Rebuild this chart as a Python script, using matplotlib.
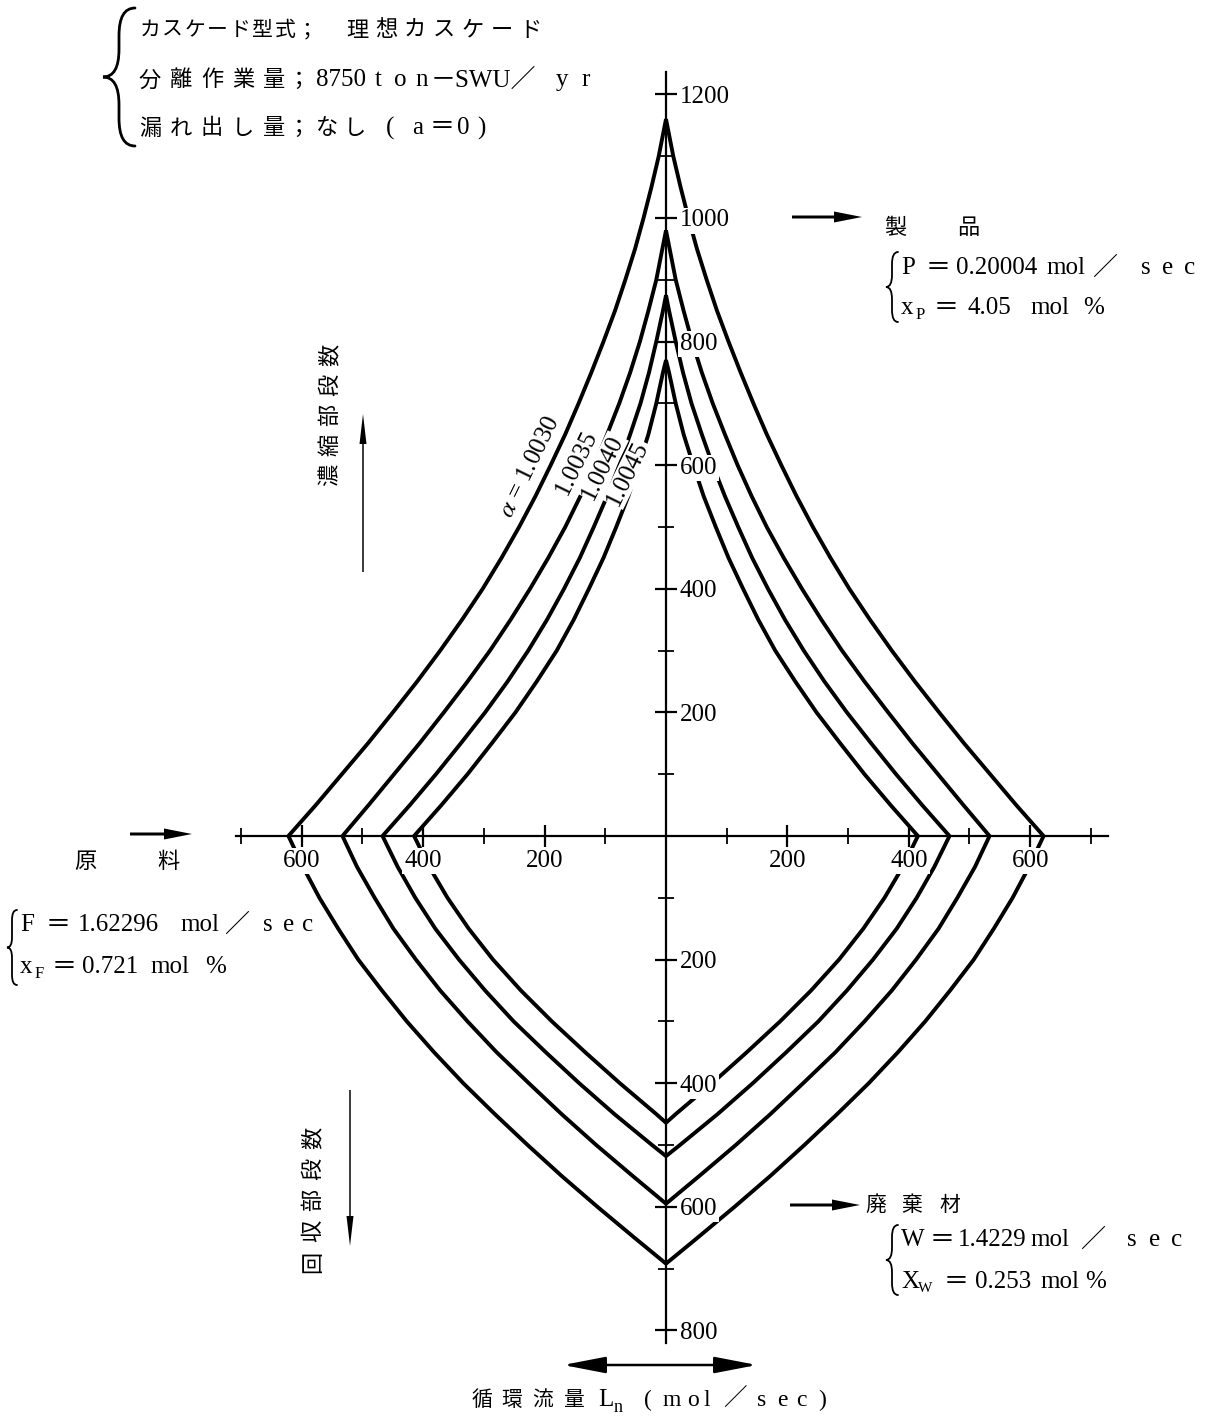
import matplotlib
matplotlib.use('Agg')
import numpy as np
import matplotlib.pyplot as plt
from matplotlib.path import Path
from matplotlib.patches import PathPatch, FancyArrow
from matplotlib.ticker import FuncFormatter

plt.rcParams['mathtext.fontset'] = 'stix'

W, H = 1206, 1423

# separation factor of each cascade
alpha_labels = [r'$\alpha$ = 1.0030', '1.0035', '1.0040', '1.0045']

# enriching section: stage number and circulating flow L_n (mol/sec)
enr_stages = [
    [0, 50, 100, 150, 200, 250, 300, 350, 400, 450, 500, 550, 600, 650, 700,
     750, 800, 850, 900, 950, 1000, 1050, 1100, 1160],
    [0, 50, 100, 150, 200, 250, 300, 350, 400, 450, 500, 550, 600, 650, 700,
     750, 800, 850, 900, 950, 980],
    [0, 50, 100, 150, 200, 250, 300, 350, 400, 450, 500, 550, 600, 650, 700,
     750, 800, 850, 875],
    [0, 50, 100, 150, 200, 250, 300, 350, 400, 450, 500, 550, 600, 650, 700,
     750, 770],
]
enr_flow = [
    [622, 577, 534, 491, 450, 410, 372, 336, 302, 271, 242, 215, 190, 166, 144,
     123, 103, 84, 67, 51, 37, 24, 12, 0],
    [533, 490, 448, 406, 366, 327, 290, 256, 224, 194, 166, 141, 118, 97, 77,
     59, 43, 29, 16, 6, 0],
    [467, 422, 379, 338, 298, 261, 227, 196, 168, 142, 119, 97, 77, 59, 42,
     28, 16, 5, 0],
    [415, 370, 327, 287, 248, 213, 180, 152, 127, 103, 82, 62, 45, 29, 16,
     5, 0],
]

# stripping section: stage number and circulating flow L_n (mol/sec)
str_stages = [
    [0, 50, 100, 150, 200, 250, 300, 350, 400, 450, 500, 550, 600, 650, 692],
    [0, 50, 100, 150, 200, 250, 300, 350, 400, 450, 500, 550, 595],
    [0, 50, 100, 150, 200, 250, 300, 350, 400, 450, 500, 518],
    [0, 50, 100, 150, 200, 250, 300, 350, 400, 450, 464],
]
str_flow = [
    [622, 598, 571, 540, 507, 468, 427, 382, 334, 282, 228, 172, 113, 52, 0],
    [533, 509, 480, 449, 412, 372, 327, 279, 226, 172, 115, 55, 0],
    [467, 442, 413, 380, 341, 298, 251, 198, 143, 85, 23, 0],
    [415, 390, 360, 325, 285, 239, 188, 133, 76, 16, 0],
]

x_major = [-600, -400, -200, 200, 400, 600]
x_minor = [-700, -500, -300, -100, 100, 300, 500, 700]
y_major = [-800, -600, -400, -200, 200, 400, 600, 800, 1000, 1200]
y_minor = [-700, -500, -300, -100, 100, 300, 500, 700, 900, 1100]

# where each alpha label sits (flow, stage) and its slant
label_pos = [(-224, 597), (-148, 605), (-104, 597), (-63, 587)]
label_rot = 64

SERIF = ['Liberation Serif', 'Noto Sans CJK JP']
CJK = ['Noto Sans CJK JP', 'DejaVu Sans']

fig = plt.figure(figsize=(W / 100, H / 100), dpi=100)
fig.patch.set_facecolor('white')

# chart axes: origin at pixel (666, 836)
ax = fig.add_axes([0, 0, 1, 1])
x0, sx = 666, 0.607
y0, sy = 836, 0.618
ax.set_xlim(-x0 / sx, (W - x0) / sx)
ax.set_ylim(-(H - y0) / sy, y0 / sy)
ax.patch.set_alpha(0)

for side in ['top', 'left']:
    ax.spines[side].set_visible(False)
ax.spines['bottom'].set_position(('data', 0))
ax.spines['right'].set_position(('data', 0))
ax.spines['bottom'].set_bounds(-708, 728)
ax.spines['right'].set_bounds(-820, 1236)
for side in ['bottom', 'right']:
    ax.spines[side].set_linewidth(1.6)
ax.xaxis.set_ticks_position('bottom')
ax.yaxis.set_ticks_position('right')
ax.set_xticks(x_major)
ax.set_xticks(x_minor, minor=True)
ax.set_yticks(y_major)
ax.set_yticks(y_minor, minor=True)
absfmt = FuncFormatter(lambda v, p: f'{abs(v):.0f}')
ax.xaxis.set_major_formatter(absfmt)
ax.yaxis.set_major_formatter(absfmt)
ax.tick_params(which='major', direction='inout', length=16, width=1.6,
               labelsize=18, pad=2)
ax.tick_params(which='minor', direction='inout', length=11, width=1.3)
ax.tick_params(axis='y', labelright=True, labelleft=False)
ax.set_axisbelow(False)
for lab in ax.get_xticklabels() + ax.get_yticklabels():
    lab.set_fontfamily('Liberation Serif')
    lab.set_bbox(dict(facecolor='white', edgecolor='none', pad=1.5))

# one closed outline per cascade, mirrored about the stage axis
for ne, le, ns, ls in zip(enr_stages, enr_flow, str_stages, str_flow):
    ne, le, ns, ls = map(np.asarray, (ne, le, ns, ls))
    xr = np.concatenate([le[::-1], ls[1:]])
    yr = np.concatenate([ne[::-1], -ns[1:]])
    xs = np.concatenate([xr, -xr[::-1][1:-1]])
    ys = np.concatenate([yr, yr[::-1][1:-1]])
    ax.fill(xs, ys, fill=False, edgecolor='black', lw=2.8,
            joinstyle='miter', zorder=2)

for lab, (lx, ly) in zip(alpha_labels, label_pos):
    ax.text(lx, ly, lab, rotation=label_rot, ha='center', va='center',
            fontsize=18, family=SERIF, zorder=3,
            bbox=dict(facecolor='white', edgecolor='none', pad=0.5))

# annotation layer in pixel coordinates
ov = fig.add_axes([0, 0, 1, 1])
ov.set_xlim(0, W)
ov.set_ylim(H, 0)
ov.axis('off')
ov.patch.set_alpha(0)


def txt(x, y, s, size=18, family=SERIF, **kw):
    ov.text(x, y, s, fontsize=size, family=family, ha='left', va='center', **kw)


def place(xs, y, s, size=16, family=CJK):
    for xc, c in zip(xs, s):
        ov.text(xc, y, c, fontsize=size, family=family, ha='center', va='center')


def spaced(x, y, s, pitch, size=16, family=CJK, vertical=False):
    for i, c in enumerate(s):
        if vertical:
            ov.text(x, y - i * pitch, c, fontsize=size, family=family,
                    rotation=90, ha='center', va='center')
        else:
            ov.text(x + i * pitch, y, c, fontsize=size, family=family,
                    ha='center', va='center')


def brace(xb, yt, yb, xt, lw=1.5):
    xm = (xb + xt) / 2
    ym = (yt + yb) / 2
    r = min(abs(xb - xt), (yb - yt) / 5)
    verts = [(xb, yt), (xm, yt), (xm, yt + r), (xm, ym - r), (xm, ym), (xt, ym),
             (xm, ym), (xm, ym + r), (xm, yb - r), (xm, yb), (xb, yb)]
    codes = [Path.MOVETO, Path.CURVE3, Path.CURVE3, Path.LINETO, Path.CURVE3,
             Path.CURVE3, Path.CURVE3, Path.CURVE3, Path.LINETO, Path.CURVE3,
             Path.CURVE3]
    ov.add_patch(PathPatch(Path(verts, codes), fill=False, lw=lw,
                           edgecolor='black', capstyle='round'))


def arrow(x, y, dx, dy, width=3, hw=11, hl=28):
    ov.add_patch(FancyArrow(x, y, dx, dy, width=width, head_width=hw,
                            head_length=hl, length_includes_head=True,
                            color='black', lw=0))


# cascade conditions
brace(135, 8, 146, 103, lw=2)
spaced(150, 30, 'カスケード型式；', 22.5, size=15)
spaced(357, 30, '理想カスケード', 29)
spaced(150, 80, '分離作業量', 31)
place([298], 80, '；')
txt(316, 80, '8750')
spaced(378, 80, 'ton', 22, size=18, family=SERIF)
txt(431, 80, '－SWU／')
spaced(562, 80, 'yr', 24, size=18, family=SERIF)
spaced(150, 128, '漏れ出し量', 31)
place([298], 128, '；')
place([327, 355], 128, 'なし')
place([390, 418, 442, 463, 481], 128, '(a＝0)', size=18, family=SERIF)

# product
arrow(792, 217, 70, 0)
place([895, 968], 228, '製品')
brace(898, 252, 322, 886, lw=1.3)
txt(901, 268, 'P')
txt(926, 268, '＝', family=CJK)
txt(956, 268, '0.20004')
txt(1046, 268, 'mol')
txt(1092, 268, '／', family=CJK)
place([1146, 1168, 1190], 268, 'sec', size=18, family=SERIF)
txt(901, 308, 'x')
txt(916, 315, 'P', size=12)
txt(934, 308, '＝', family=CJK)
txt(968, 308, '4.05')
txt(1030, 308, 'mol')
txt(1083, 308, '%')

# tails
arrow(790, 1205, 70, 0)
place([876, 912, 950], 1205, '廃棄材', size=15)
brace(898, 1225, 1295, 886, lw=1.3)
txt(901, 1240, 'W')
txt(930, 1240, '＝', family=CJK)
txt(958, 1240, '1.4229')
txt(1030, 1240, 'mol')
txt(1080, 1240, '／', family=CJK)
place([1132, 1155, 1177], 1240, 'sec', size=18, family=SERIF)
txt(901, 1282, 'X')
txt(918, 1289, 'W', size=11)
txt(944, 1282, '＝', family=CJK)
txt(975, 1282, '0.253')
txt(1040, 1282, 'mol')
txt(1085, 1282, '%')

# feed
arrow(130, 834, 62, 0)
place([85, 168], 862, '原料')
brace(17, 910, 985, 7, lw=1.3)
txt(20, 925, 'F')
txt(46, 925, '＝', family=CJK)
txt(78, 925, '1.62296')
txt(180, 925, 'mol')
txt(224, 925, '／', family=CJK)
place([268, 289, 308], 925, 'sec', size=18, family=SERIF)
txt(20, 967, 'x')
txt(35, 974, 'F', size=12)
txt(52, 967, '＝', family=CJK)
txt(82, 967, '0.721')
txt(150, 967, 'mol')
txt(205, 967, '%')

# section labels
spaced(330, 475, '濃縮部段数', 30, vertical=True)
arrow(363, 572, 0, -158, width=1.5, hw=7, hl=30)
spaced(313, 1262, '回収部段数', 31, vertical=True)
arrow(350, 1090, 0, 156, width=1.5, hw=7, hl=30)

# flow axis title
ov.annotate('', xy=(757, 1365), xytext=(563, 1365),
            arrowprops=dict(arrowstyle='<|-|>,head_length=1.3,head_width=0.25',
                            lw=1.8, color='black', shrinkA=0, shrinkB=0,
                            mutation_scale=20))
place([482, 512, 543, 573], 1400, '循環流量', size=15)
txt(598, 1400, 'L')
txt(614, 1407, 'n', size=13)
place([648, 672, 693, 707, 735, 762, 782, 801, 822], 1400, '(mol／sec)',
      size=17, family=SERIF)

fig.savefig('out.png', dpi=100, facecolor='white')
